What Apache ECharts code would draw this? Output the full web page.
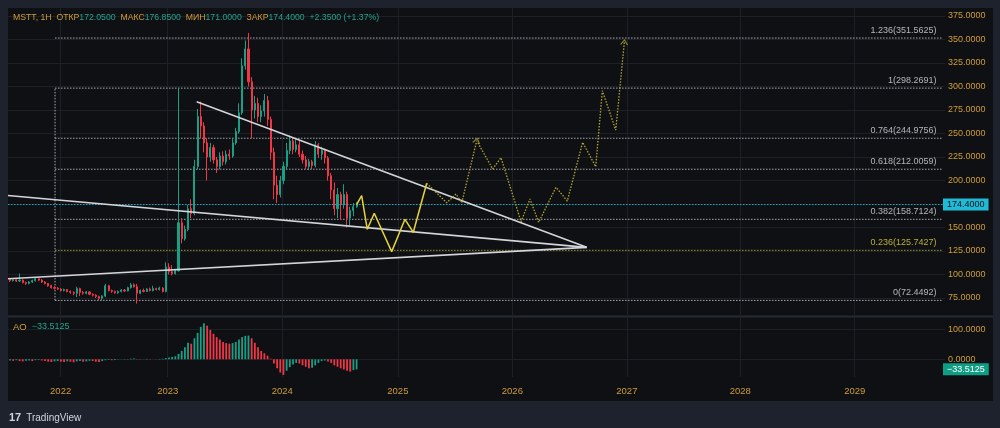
<!DOCTYPE html>
<html><head><meta charset="utf-8">
<script src="https://cdn.jsdelivr.net/npm/echarts@6/dist/echarts.min.js"></script>
<style>html,body{margin:0;padding:0;background:#1e222d;}#c{width:1000px;height:428px;}</style>
</head><body><div id="c"></div>
<script>
// ---------- data ----------
const symbolName = 'MSTT, 1H';
const headerLabels = ['ОТКР', 'МАКС', 'МИН', 'ЗАКР'];
const headerValues = ['172.0500', '176.8500', '171.0000', '174.4000'];
const headerChange = '+2.3500 (+1.37%)';
const indicatorName = 'AO';

// candles: [open, close, low, high]
const candles = [
[95,93.5,92,96.5],[93.5,94.5,92.5,95.5],[94.5,93,92,95.5],[93,94,92,101],[94,91.5,90.5,95],
[91.5,90.5,89,92.5],[90.5,92,89.5,93],[92,93.5,91,94.5],[93.5,95.5,92.5,96.5],[95.5,94,93,96],
[94,92,91,95],[92,90.5,89.5,93],[90.5,88,87,91],[88,86,85,89],[86,85.5,84,87.5],
[85.5,84.5,83.5,86.5],[84.5,83,82,85.5],[83,84,82,85],[84,82,81,84.5],[82,81,79.5,83],
[81,80,78,82],[80,85,76,87],[85,81,77,86],[81,80,78.5,82.5],[80,81.5,79,82.5],
[81.5,79,78,82],[79,78,76.5,80],[78,76.5,75,79],[76.5,74.5,72.5,77.5],[74.5,77,72.5,78],
[77,88,76,90],[88,83,82,89],[83,82,80.5,84],[82,80.5,79.5,83],[80.5,82,79.5,83],
[82,83.5,81,84.5],[83.5,82.5,81.5,84.5],[82.5,86,82,87],[86,89,85,91],[89,87,86,90.5],
[87,80,69,90],[80,83,79,84],[83,82,81,85],[82,84.5,81.5,85.5],[84.5,83,82,86],
[83,85,82,88],[85,84,83,86],[84,85.5,83,87],[85.5,82,81,86.5],[82,108,81,113],
[108,103,100,112],[103,101,99,110],[101,104,100,106],[104,155,103,298],[155,138,133,160],
[138,148,136,152],[148,170,146,174],[170,165,160,180],[165,215,163,222],[215,268,212,276],
[268,258,245,284],[258,240,230,262],[240,225,200,245],[225,235,220,240],[235,222,218,238],
[222,215,208,225],[215,226,212,230],[226,220,216,231],[220,228,217,232],[228,226,222,233],
[226,240,224,244],[240,252,238,256],[252,272,250,282],[272,322,270,330],[322,340,318,349],
[340,305,300,357],[305,275,245,310],[275,282,266,290],[282,268,262,288],[268,274,262,280],
[274,285,268,292],[285,265,258,290],[265,230,222,268],[230,195,180,235],[195,185,176,205],
[185,200,182,205],[200,215,196,220],[215,232,212,240],[232,242,228,248],[242,233,228,245],
[233,238,230,244],[238,228,225,242],[228,222,218,232],[222,215,212,226],[215,220,211,223],
[220,216,212,222],[216,238,214,242],[238,228,224,240],[228,232,222,236],[232,224,218,234],
[224,205,200,226],[205,190,180,208],[190,170,163,198],[170,185,160,192],[185,175,158,188],
[175,185,170,196],[185,160,150,188],[160,168,152,172],[168,172,162,176],[172.05,174.4,171,176.85]
];
const candleStart = 2021.6227;   // time of first candle (chart years)
const candleStep = 0.02777;      // spacing between candles (chart years)

const aoValues = [
-4,-5,-3,-6,-7,-5,-4,-6,-3,-2,
-4,-6,-8,-9,-7,-6,-8,-9,-7,-8,
-10,-7,-6,-8,-7,-5,-6,-8,-9,-6,
-3,-2,-3,-2,-1,0.5,1,-1,2,3,
1,-1,0.5,1.5,1,0.5,-0.5,1,2,4,
6,8,10,18,28,40,55,52,70,88,
108,120,112,98,85,74,66,58,54,52,
54,58,66,74,78,79,70,55,40,28,
20,12,2,-14,-30,-44,-52,-38,-26,-17,
-12,-14,-20,-25,-30,-28,-20,-12,-6,-4,
-7,-12,-20,-25,-30,-34,-38,-41,-36,-33.5125
];
const lastPrice = 174.4;
const aoLast = -33.5125;

const priceTicks = [75,100,125,150,200,225,250,275,300,325,350,375];
const priceGridLevels = [75,100,125,150,175,200,225,250,275,300,325,350,375];
const aoTicks = [0,100];
const yearTickPos = [2022.065,2023,2024,2025.01,2026.01,2027.01,2028,2029];
const yearTickLabels = ['2022','2023','2024','2025','2026','2027','2028','2029'];

const fibRatios = ['1.236','1','0.764','0.618','0.382','0.236','0'];
const fibPrices = [351.5625,298.2691,244.9756,212.0059,158.7124,125.7427,72.4492];
const fibStart = 2022.016, fibEnd = 2029.762;

const upperTrend = [[2023.253,283.8],[2026.659,128.9]];
const lowerFalling = [[2021.605,184.0],[2026.659,128.9]];
const lowerRising = [[2021.605,95.5],[2026.659,128.9]];
const solidPath = [[2024.65,174.4],[2024.694,183.8],[2024.743,148.1],[2024.804,165.1],[2024.956,124.3],[2025.072,158.7],[2025.145,144.9],[2025.262,197.0]];
const dottedPath = [[2025.262,197.0],[2025.437,176.4],[2025.518,185.6],[2025.568,176.4],[2025.699,242.3],[2025.838,212.2],[2025.911,224.3],[2026.086,156.2],[2026.164,180.3],[2026.240,155.5],[2026.391,192.8],[2026.490,178.2],[2026.624,240.6],[2026.738,214.7],[2026.796,295.5],[2026.913,253.7],[2026.988,347.0]];
const arrowIdx = [4, 16];
const arrowRot = [-14, -6];

// ---------- style ----------
const FF = 'Liberation Sans';
const GOLD = '#cf9d3a';
const TEAL = '#22a38f';
const UP = '#18a086', DOWN = '#f23645';
const GRID = '#1d2027';
const PANEL = '#0f1014';
const FIBW = '#a9acb3', FIBY = '#a89c2c';
const xMin = 2021.6052, xMax = 2029.7886;

const nearestYear = v => {
  let b = 0; for (let i = 1; i < yearTickPos.length; i++) if (Math.abs(yearTickPos[i]-v) < Math.abs(yearTickPos[b]-v)) b = i;
  return yearTickLabels[b];
};
const xAxisCfg = (gi, show) => ({
  type:'value', gridIndex:gi, min:xMin, max:xMax,
  axisLine:{show:false},
  axisTick:{show:false, customValues: yearTickPos},
  axisLabel:{show:show, customValues: yearTickPos, formatter: nearestYear, color:GOLD, fontSize:9.5, fontFamily:FF, margin:9},
  splitLine:{show:true, lineStyle:{color:GRID, width:1}}
});

const candleData = candles.map((c,i) => [candleStart + i*candleStep, c[0], c[1], c[2], c[3]]);
const aoData = aoValues.map((v,i) => [candleStart + i*candleStep, v]);
const fmtMinus = v => (v < 0 ? '\u2212' : '') + Math.abs(v).toFixed(4);

const headerText = `{a|${symbolName}}  ` + headerLabels.map((l,i) => `{a|${l}}{b|${headerValues[i]}}`).join('  ') + `  {b|${headerChange}}`;

const series = [];
series.push({
  type:'candlestick', xAxisIndex:0, yAxisIndex:0, data:candleData, barWidth:1.6, z:4,
  itemStyle:{color:UP, color0:DOWN, borderColor:UP, borderColor0:DOWN, borderWidth:1},
  markLine:{silent:true, symbol:'none', animation:false, data:[{yAxis:lastPrice}],
    lineStyle:{color:'#1fa9c4', type:[1.5,1.5], width:1},
    label:{position:'end', distance:-2, formatter: () => lastPrice.toFixed(4), backgroundColor:'#1fbad6', color:'#0f1014',
      padding:[1,4], fontSize:9, fontFamily:FF, lineHeight:10}}
});
fibPrices.forEach((p,i) => {
  series.push({type:'line', xAxisIndex:0, yAxisIndex:0, data:[[fibStart,p],[fibEnd,p]], symbol:'none', silent:true, z:2,
    lineStyle:{color: i===5 ? FIBY : FIBW, width:1, type:[1.5,1.5]}});
});
series.push({type:'line', xAxisIndex:0, yAxisIndex:0, data:[[fibStart,fibPrices[6]],[fibStart,fibPrices[1]]], symbol:'none', silent:true, z:2,
  lineStyle:{color:FIBW, width:1, type:[1.5,1.5]}});
series.push({type:'scatter', xAxisIndex:0, yAxisIndex:0, symbolSize:1, silent:true, z:6,
  itemStyle:{color:'transparent'},
  data: fibPrices.map((p,i) => ({value:[fibEnd,p], label:{show:true, formatter: fibRatios[i]+'('+p.toFixed(4)+')',
    color: i===5 ? '#e2d33c' : '#dcdde2', position:[-5,-7], align:'right', verticalAlign:'middle', fontSize:9, fontFamily:FF}}))
});
[upperTrend, lowerFalling, lowerRising].forEach(d => {
  series.push({type:'line', xAxisIndex:0, yAxisIndex:0, data:d, symbol:'none', silent:true, z:5,
    lineStyle:{color:'#d3d5da', width:1.6}});
});
series.push({type:'line', xAxisIndex:0, yAxisIndex:0, data:solidPath, symbol:'none', silent:true, z:5,
  lineStyle:{color:'#e6d43a', width:1.5}});
series.push({type:'line', xAxisIndex:0, yAxisIndex:0, data:dottedPath, symbol:'none', silent:true, z:5,
  lineStyle:{color:'#b4a630', width:1.3, type:[1.5,1.5]}});
series.push({type:'scatter', xAxisIndex:0, yAxisIndex:0, silent:true, z:5,
  symbol:'path://M0,6L4,0L8,6', symbolSize:[7,5],
  itemStyle:{color:'none', borderColor:'#b4a630', borderWidth:1},
  data: arrowIdx.map((k,j) => ({value: dottedPath[k], symbolRotate: arrowRot[j]}))
});
series.push({
  type:'bar', xAxisIndex:1, yAxisIndex:1, data:aoData, barWidth:1.8, silent:true,
  itemStyle:{color: p => (p.dataIndex === 0 || aoValues[p.dataIndex] >= aoValues[p.dataIndex-1]) ? UP : DOWN},
  markLine:{silent:true, symbol:'none', animation:false, data:[{yAxis:aoLast}],
    lineStyle:{color:'transparent', width:0},
    label:{position:'end', distance:-2, formatter: () => fmtMinus(aoLast), backgroundColor:'#0f9d84', color:'#ffffff',
      padding:[1,4], fontSize:9, fontFamily:FF, lineHeight:10}}
});

const option = {
  backgroundColor:'#1e222d',
  animation:false,
  title:[
    {left:13, top:13, padding:0, text:headerText,
     textStyle:{fontSize:8.7, fontFamily:FF, fontWeight:'normal', rich:{a:{color:GOLD, fontSize:8.7, fontFamily:FF}, b:{color:TEAL, fontSize:8.7, fontFamily:FF}}}},
    {left:13, top:322, padding:0, text:`{a|${indicatorName}}  {b|${fmtMinus(aoLast)}}`,
     textStyle:{fontSize:9, fontFamily:FF, fontWeight:'normal', rich:{a:{color:GOLD, fontSize:9.5, fontFamily:FF}, b:{color:TEAL, fontSize:9, fontFamily:FF}}}},
    {left:9, top:409, padding:0, text:'{l|17} {t|TradingView}',
     textStyle:{fontFamily:FF, fontWeight:'normal', rich:{l:{color:'#d1d4dc', fontSize:11, fontWeight:'bold', fontFamily:FF}, t:{color:'#d1d4dc', fontSize:10, fontWeight:'normal', fontFamily:FF}}}}
  ],
  graphic:[
    {type:'rect', z:-100, silent:true, shape:{x:8, y:8, width:985, height:393}, style:{fill:PANEL}},
    {type:'line', z:-99, silent:true, shape:{x1:8, y1:316.5, x2:993, y2:316.5}, style:{stroke:'#262a34', lineWidth:2}}
  ],
  grid:[
    {left:8, top:8, width:937, height:307},
    {left:8, top:318, width:937, height:59}
  ],
  xAxis:[xAxisCfg(0,false), xAxisCfg(1,true)],
  yAxis:[
    {type:'value', gridIndex:0, position:'right', min:56.91, max:383.51,
     axisLine:{show:false}, axisTick:{show:false, customValues:priceGridLevels},
     axisLabel:{customValues:priceTicks, formatter: v => v.toFixed(4), color:GOLD, fontSize:9, fontFamily:FF, margin:3},
     splitLine:{show:true, lineStyle:{color:GRID}}},
    {type:'value', gridIndex:1, position:'right', min:-59, max:137.67,
     axisLine:{show:false}, axisTick:{show:false, customValues:aoTicks},
     axisLabel:{customValues:aoTicks, formatter: v => v.toFixed(4), color:GOLD, fontSize:9, fontFamily:FF, margin:3},
     splitLine:{show:true, lineStyle:{color:GRID}}}
  ],
  series: series
};
const chart = echarts.init(document.getElementById('c'), null, {renderer:'canvas', width:1000, height:428});
chart.setOption(option);
</script></body></html>
